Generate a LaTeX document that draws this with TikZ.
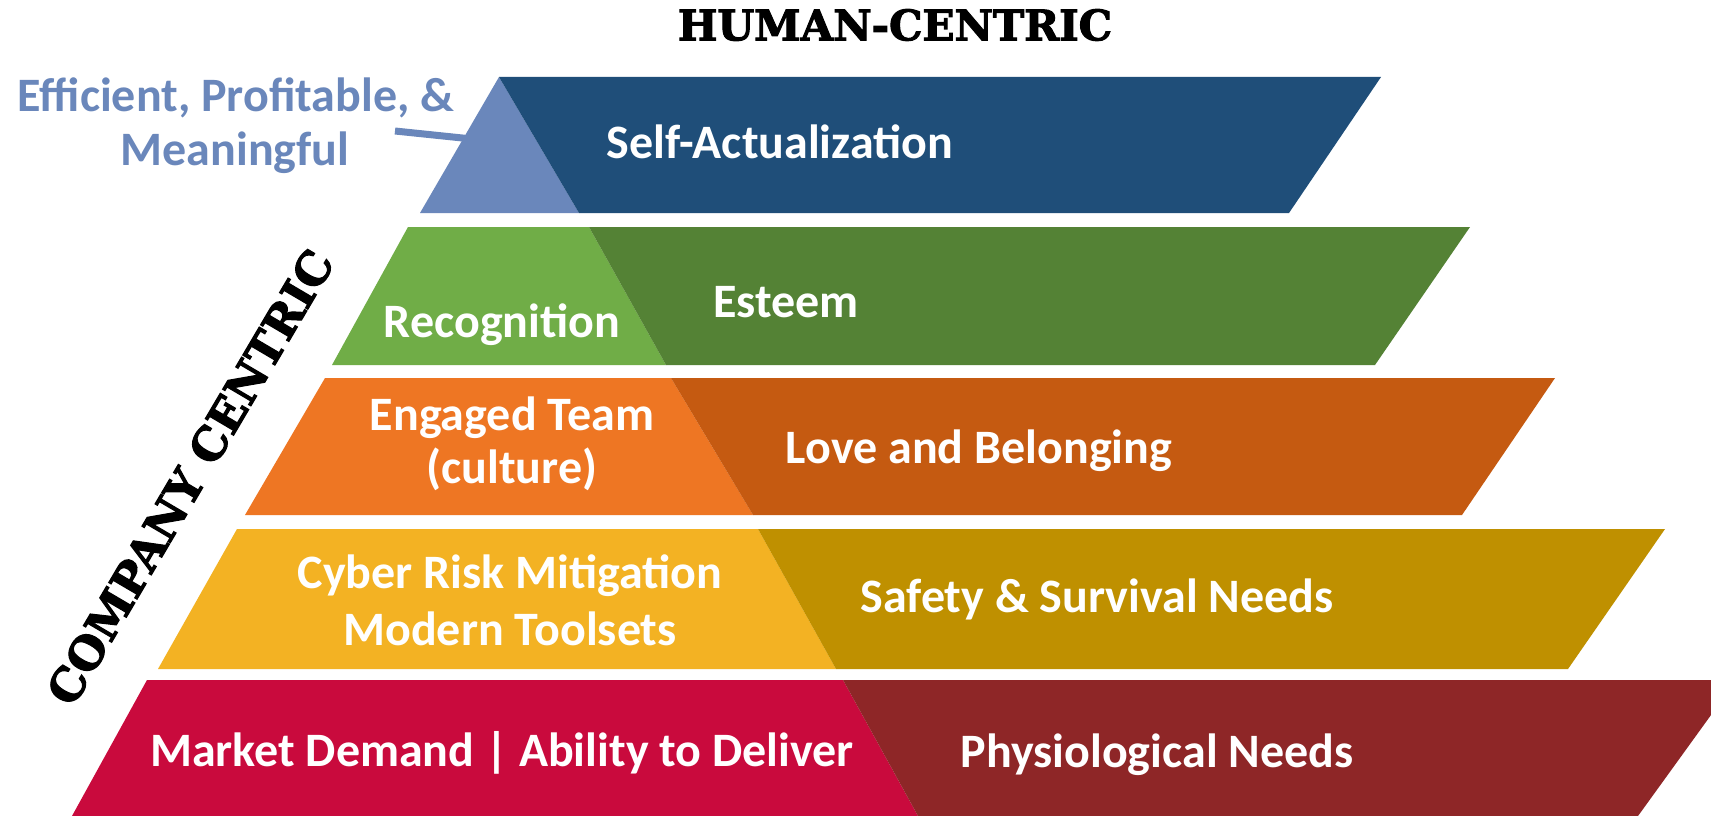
\documentclass[tikz,border=0pt]{standalone}
\usepackage{fontspec}
\setmainfont{Carlito}
\newfontfamily\slabfont[FakeBold=2.5]{DejaVu Serif}
\definecolor{lblue}{HTML}{6A87BB}
\definecolor{dblue}{HTML}{1F4E79}
\definecolor{lgreen}{HTML}{70AD47}
\definecolor{dgreen}{HTML}{548235}
\definecolor{lorange}{HTML}{EE7623}
\definecolor{dorange}{HTML}{C55A11}
\definecolor{lyellow}{HTML}{F3B223}
\definecolor{dyellow}{HTML}{BF9000}
\definecolor{lred}{HTML}{C90A3D}
\definecolor{dred}{HTML}{8E2627}
\tikzset{
  lbl/.style={text=white,font=\bfseries\fontsize{48}{52}\selectfont,align=center,inner sep=0pt},
  headline/.style={text=black,font=\slabfont\bfseries\fontsize{42}{46}\selectfont,inner sep=0pt},
}
\begin{document}
\begin{tikzpicture}[x=1pt,y=-1pt]
\useasboundingbox (0,0) rectangle (1711,816);
\fill[white] (0,0) rectangle (1711,816);
% band 1
\fill[lblue] (499,77) -- (420,213) -- (579,213) -- cycle;
\fill[dblue] (499,77) -- (1381,77) -- (1289,213) -- (579,213) -- cycle;
% band 2
\fill[lgreen] (408,227) -- (589,227) -- (666,365) -- (332,365) -- cycle;
\fill[dgreen] (589,227) -- (1470,227) -- (1375,365) -- (666,365) -- cycle;
% band 3
\fill[lorange] (325,378) -- (671,378) -- (753,515) -- (245,515) -- cycle;
\fill[dorange] (671,378) -- (1555,378) -- (1462,515) -- (753,515) -- cycle;
% band 4
\fill[lyellow] (237,529) -- (758,529) -- (836,669) -- (158,669) -- cycle;
\fill[dyellow] (758,529) -- (1665,529) -- (1568,669) -- (836,669) -- cycle;
% band 5
\fill[lred] (147,680) -- (843,680) -- (918,816) -- (72,816) -- cycle;
\fill[dred] (843,680) -- (1711,680) -- (1711,715) -- (1638,816) -- (918,816) -- cycle;

% texts
\node[headline] (hc) at (895,25) {HUMAN-CENTRIC};
\node[headline,rotate=59.5,font=\slabfont\bfseries\fontsize{45}{48}\selectfont] (cc) at (190,477) {COMPANY CENTRIC};
\node[lbl,text=lblue] (eff1) at (236,98) {Efficient, Profitable, \&};
\node[lbl,text=lblue] (eff2) at (235,153) {Meaningful};
\coordinate (effa) at (395,131);
\coordinate (effb) at (472,139);
\draw[lblue,line width=7pt] (effa) -- (effb);
\node[lbl] (sa) at (780,142) {Self-Actualization};
\node[lbl] (rec) at (502,325) {Recognition};
\node[lbl] (est) at (786,302) {Esteem};
\node[lbl,font=\bfseries\fontsize{48}{53}\selectfont] (eng) at (512,444) {Engaged Team\\(culture)};
\node[lbl] (love) at (979,451) {Love and Belonging};
\node[lbl,font=\bfseries\fontsize{48}{57}\selectfont] (cyb) at (510,600) {Cyber Risk Mitigation\\Modern Toolsets};
\node[lbl] (saf) at (1097,599) {Safety \& Survival Needs};
\node[lbl] (mkt) at (502,753) {Market Demand | Ability to Deliver};
\node[lbl] (phy) at (1157,755) {Physiological Needs};
\end{tikzpicture}
\end{document}
